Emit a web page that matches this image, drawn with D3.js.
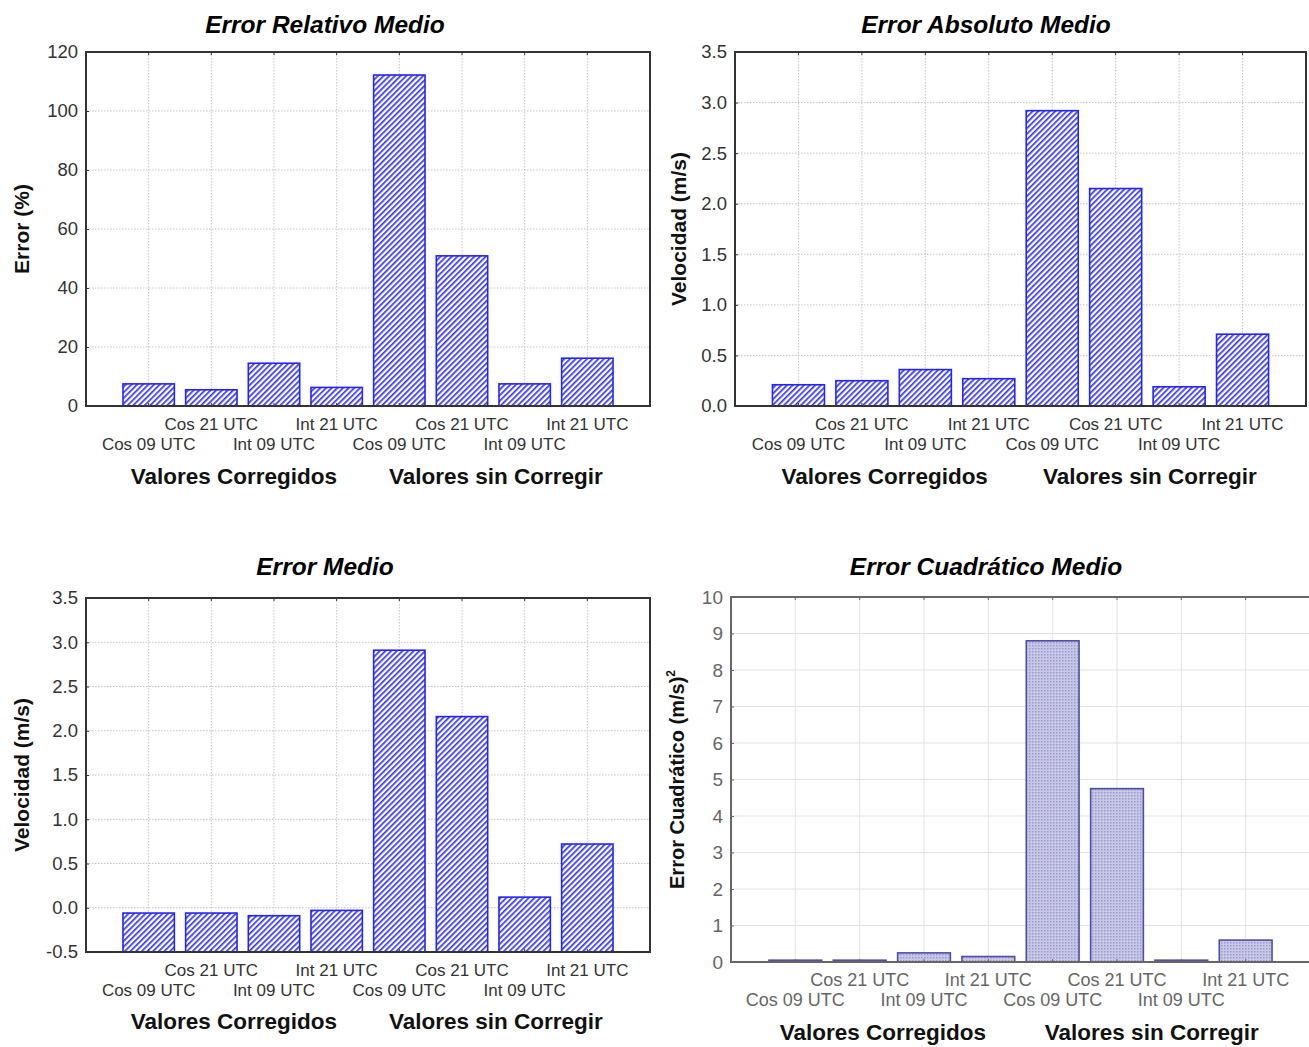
<!DOCTYPE html>
<html>
<head>
<meta charset="utf-8">
<script src="https://cdn.jsdelivr.net/npm/d3@7"></script>
<style>
  body { margin: 0; background: #fff; }
  svg { display: block; font-family: "Liberation Sans", Arial, sans-serif; }
</style>
</head>
<body>
<svg width="1309" height="1047"></svg>
<script>
// categories on the x axis and the two groups under them
const categories = ['Cos 09 UTC', 'Cos 21 UTC', 'Int 09 UTC', 'Int 21 UTC',
                    'Cos 09 UTC', 'Cos 21 UTC', 'Int 09 UTC', 'Int 21 UTC'];
const groups = ['Valores Corregidos', 'Valores sin Corregir'];

// values
const errorRelativo = [7.5, 5.5, 14.5, 6.3, 112.2, 50.9, 7.5, 16.2];
const errorAbsoluto = [0.21, 0.25, 0.36, 0.27, 2.92, 2.15, 0.19, 0.71];
const errorMedio = [-0.06, -0.06, -0.09, -0.03, 2.91, 2.16, 0.12, 0.72];
const errorCuadratico = [0.05, 0.05, 0.25, 0.15, 8.8, 4.75, 0.05, 0.6];

// y tick values
const ticksRelativo = d3.range(0, 121, 20);
const ticksVelocidad = d3.range(0, 3.51, 0.5);
const ticksMedio = d3.range(-0.5, 3.51, 0.5);
const ticksCuadratico = d3.range(0, 11, 1);

const svg = d3.select('svg');
const defs = svg.append('defs');

// diagonal blue hatch for the three Statistica style panels
const hatch = defs.append('pattern')
  .attr('id', 'hatch')
  .attr('patternUnits', 'userSpaceOnUse')
  .attr('width', 4).attr('height', 4)
  .attr('patternTransform', 'rotate(45)');
hatch.append('rect').attr('width', 4).attr('height', 4).attr('fill', '#fff');
hatch.append('rect').attr('width', 1.7).attr('height', 4).attr('fill', '#3434ff');

// fine cross pattern for the last panel
const cross = defs.append('pattern')
  .attr('id', 'cross')
  .attr('patternUnits', 'userSpaceOnUse')
  .attr('width', 3).attr('height', 3);
cross.append('rect').attr('width', 3).attr('height', 3).attr('fill', '#c8c8e6');
cross.append('rect').attr('width', 1.5).attr('height', 1.5).attr('fill', '#9a9ace');

function drawPanel(p) {
  const g = svg.append('g');
  const x = d3.scaleLinear().domain([0, categories.length + 1]).range([p.left, p.right]);
  const y = d3.scaleLinear().domain(p.domain).range([p.bottom, p.top]);
  const step = x(1) - x(0);
  const barW = step * 0.82;
  const fmt = d3.format(p.fmt);

  // grid
  g.append('g').selectAll('line.h').data(p.ticks).join('line')
    .attr('x1', p.left).attr('x2', p.right)
    .attr('y1', d => y(d)).attr('y2', d => y(d))
    .attr('stroke', p.gridColor).attr('stroke-width', 1)
    .attr('stroke-dasharray', p.gridDash);
  g.append('g').selectAll('line.v').data(categories).join('line')
    .attr('x1', (d, i) => x(i + 1)).attr('x2', (d, i) => x(i + 1))
    .attr('y1', p.top).attr('y2', p.bottom)
    .attr('stroke', p.gridColor).attr('stroke-width', 1)
    .attr('stroke-dasharray', p.gridDash);

  // bars, all rising from the bottom of the axis
  const base = y(p.domain[0]);
  g.append('g').selectAll('rect').data(p.values).join('rect')
    .attr('x', (d, i) => x(i + 1) - barW / 2)
    .attr('width', barW)
    .attr('y', d => y(d))
    .attr('height', d => base - y(d))
    .attr('fill', p.fill)
    .attr('stroke', p.barStroke)
    .attr('stroke-width', 1.6);

  // frame
  g.append('rect')
    .attr('x', p.left).attr('y', p.top)
    .attr('width', p.right - p.left).attr('height', p.bottom - p.top)
    .attr('fill', 'none').attr('stroke', p.frameColor).attr('stroke-width', 2);

  // y axis with labels (plain hyphen for negatives, like the original)
  const yAxis = d3.axisLeft(y).tickValues(p.ticks)
    .tickFormat(d => fmt(d).replace('\u2212', '-'))
    .tickSize(-3).tickPadding(8);
  const ya = g.append('g').attr('transform', `translate(${p.left},0)`).call(yAxis);
  ya.select('.domain').remove();
  ya.selectAll('.tick line').attr('stroke', p.frameColor);
  ya.selectAll('text').attr('font-size', p.yTickSize).attr('fill', p.tickColor)
    .attr('font-family', '"Liberation Sans", Arial, sans-serif');

  // top / bottom tick marks at categories
  g.append('g').selectAll('line').data(categories).join('line')
    .attr('x1', (d, i) => x(i + 1)).attr('x2', (d, i) => x(i + 1))
    .attr('y1', p.bottom).attr('y2', p.bottom - 3)
    .attr('stroke', p.frameColor);
  g.append('g').selectAll('line').data(categories).join('line')
    .attr('x1', (d, i) => x(i + 1)).attr('x2', (d, i) => x(i + 1))
    .attr('y1', p.top).attr('y2', p.top + 3)
    .attr('stroke', p.frameColor);

  // staggered category labels
  g.append('g').selectAll('text').data(categories).join('text')
    .attr('x', (d, i) => x(i + 1))
    .attr('y', (d, i) => p.bottom + (i % 2 ? p.catUp : p.catDown))
    .attr('text-anchor', 'middle')
    .attr('font-size', p.tickSize)
    .attr('fill', p.tickColor)
    .text(d => d);

  // group labels
  g.append('g').selectAll('text').data(groups).join('text')
    .attr('x', (d, i) => x(i ? 6.54 : 2.36))
    .attr('y', p.bottom + p.groupOffset)
    .attr('text-anchor', 'middle')
    .attr('font-size', 22.5).attr('font-weight', 'bold').attr('fill', '#111')
    .text(d => d);

  // title
  g.append('text')
    .attr('x', p.titleX).attr('y', p.titleY)
    .attr('text-anchor', 'middle')
    .attr('font-size', 24.5).attr('font-weight', 'bold').attr('font-style', 'italic')
    .attr('fill', '#000')
    .text(p.title);

  // y label
  const yl = g.append('text')
    .attr('transform', `translate(${p.ylabelX},${(p.top + p.bottom) / 2}) rotate(-90)`)
    .attr('text-anchor', 'middle')
    .attr('font-size', p.ylabelSize).attr('font-weight', 'bold').attr('fill', '#111')
    .text(p.ylabel);
  if (p.ylabelSup) {
    yl.append('tspan').attr('font-size', 12).attr('dy', -9).text(p.ylabelSup);
  }
}

const statistica = {
  fill: 'url(#hatch)', barStroke: '#2424ff', frameColor: '#333',
  gridColor: '#c4c4c4', gridDash: '1.5,1.5', tickColor: '#333',
  tickSize: 17, yTickSize: 18.5, ylabelSize: 21,
  catUp: 24, catDown: 44
};

drawPanel(Object.assign({}, statistica, {
  left: 86, right: 650, top: 52, bottom: 406,
  domain: [0, 120], ticks: ticksRelativo, fmt: 'd', values: errorRelativo,
  title: 'Error Relativo Medio', titleX: 325, titleY: 33,
  ylabel: 'Error (%)', ylabelX: 29, groupOffset: 78
}));

drawPanel(Object.assign({}, statistica, {
  left: 735, right: 1306, top: 52, bottom: 406,
  domain: [0, 3.5], ticks: ticksVelocidad, fmt: '.1f', values: errorAbsoluto,
  title: 'Error Absoluto Medio', titleX: 986, titleY: 33,
  ylabel: 'Velocidad (m/s)', ylabelX: 686, groupOffset: 78
}));

drawPanel(Object.assign({}, statistica, {
  left: 86, right: 650, top: 598, bottom: 952,
  domain: [-0.5, 3.5], ticks: ticksMedio, fmt: '.1f', values: errorMedio,
  title: 'Error Medio', titleX: 325, titleY: 575,
  ylabel: 'Velocidad (m/s)', ylabelX: 29, groupOffset: 77
}));

drawPanel({
  fill: 'url(#cross)', barStroke: '#4e4ea6', frameColor: '#666',
  gridColor: '#e2e2e2', gridDash: null, tickColor: '#666',
  tickSize: 18, yTickSize: 19, ylabelSize: 20,
  catUp: 24, catDown: 44,
  left: 731, right: 1310, top: 597, bottom: 962,
  domain: [0, 10], ticks: ticksCuadratico, fmt: 'd', values: errorCuadratico,
  title: 'Error Cuadrático Medio', titleX: 986, titleY: 575,
  ylabel: 'Error Cuadrático (m/s)', ylabelSup: '2', ylabelX: 684, groupOffset: 78
});
</script>
</body>
</html>
